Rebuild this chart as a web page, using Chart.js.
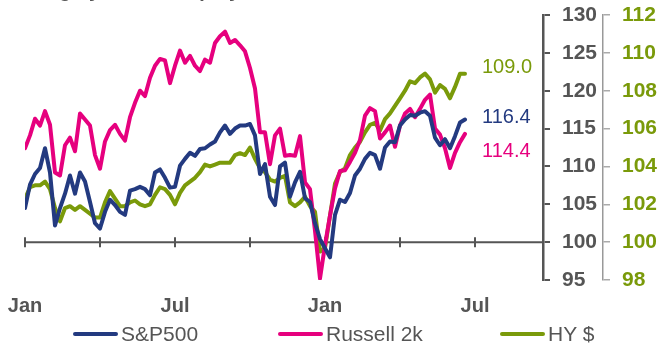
<!DOCTYPE html>
<html>
<head>
<meta charset="utf-8">
<script src="https://cdn.jsdelivr.net/npm/chart.js@4"></script>
<style>
  html, body { margin: 0; padding: 0; background: #fff; overflow: hidden; }
  #wrap { position: relative; width: 661px; height: 344px; }
  #c { display: block; }
  #title { position: absolute; left: 8px; top: -21px; font: bold 20px "Liberation Sans", Arial, sans-serif; color: #555; white-space: nowrap; }
  .leg { position: absolute; top: 323px; height: 22px; display: flex; align-items: center; font: 21px "Liberation Sans", Arial, sans-serif; color: #555; white-space: nowrap; }
  .leg i { display: inline-block; width: 45px; height: 4px; border-radius: 2px; margin-right: 3px; }
</style>
</head>
<body>
<div id="wrap">
  <canvas id="c" width="661" height="344"></canvas>
  <div id="title">US high yield and equity total return index</div>
  <div id="legend"></div>
</div>
<script>
// ---- data ----
const seriesNames = ['S&P500', 'Russell 2k', 'HY $'];
const seriesColors = ['#233a80', '#e6007e', '#7a9a0a'];
const endLabels = ['116.4', '114.4', '109.0'];
const monthTicks = [0, 3, 6, 9, 12, 15, 18];
const tickLabels = ['Jan', '', 'Jul', '', 'Jan', '', 'Jul'];
const stepMonths = 0.2; // spacing of the sampled observations, in months

const sp500 = [104.5,107.6,109.0,109.8,112.4,109.2,102.2,104.5,106.4,108.8,106.4,109.2,108.0,105.3,102.5,101.8,104.0,105.6,104.9,104.0,103.6,
  106.8,107.0,107.3,107.0,106.2,109.2,109.6,108.5,107.2,107.3,110.1,111.0,111.8,111.4,112.3,112.4,112.9,113.3,114.5,115.4,114.3,115.0,115.4,115.4,
  115.6,114.1,109.0,110.3,106.0,104.9,110.0,110.5,106.0,107.9,109.3,105.8,105.3,102.5,100.4,99.2,98.0,103.6,105.6,105.3,106.5,108.8,
  109.7,111.0,111.8,111.5,109.7,112.5,113.3,113.2,115.4,116.2,116.8,116.7,117.1,117.3,116.7,113.8,112.8,113.6,112.4,114.0,115.8,116.2];

const russell = [112.4,114.1,116.3,115.4,117.3,115.5,109.2,108.8,112.8,113.8,112.0,117.0,116.2,115.4,111.5,109.7,113.3,114.8,115.5,114.3,113.4,
  116.5,118.4,120.0,119.3,121.7,123.3,124.2,124.0,121.0,123.3,125.3,123.7,124.6,123.3,122.6,124.1,123.7,126.3,127.2,127.8,126.3,126.7,126.0,125.2,
  123.0,120.3,114.5,114.5,110.3,114.1,115.0,111.4,111.5,111.4,114.0,107.9,107.0,101.5,95.2,99.6,103.5,107.1,109.4,109.5,110.6,111.8,
  113.5,116.7,117.7,117.3,113.7,114.5,115.4,112.6,115.4,117.0,117.6,116.5,117.6,118.8,119.5,115.0,114.2,112.4,109.8,111.8,113.2,114.3];

const hy = [102.3,102.9,103.0,103.0,103.2,102.8,101.8,101.1,101.8,101.9,101.7,101.9,101.7,101.5,101.3,101.3,102.1,102.7,102.3,101.9,101.9,
  102.1,102.2,102.0,101.9,102.0,102.5,102.9,102.8,102.5,102.0,102.6,103.0,103.2,103.4,103.7,104.1,104.0,104.1,104.2,104.2,104.2,104.6,104.7,104.6,
  105.0,104.4,103.9,103.7,103.3,103.2,103.4,103.5,102.1,101.9,102.1,102.4,101.9,101.6,99.5,99.7,101.4,103.1,103.7,103.9,104.6,105.0,
  105.3,105.8,106.2,106.3,105.9,106.5,106.8,107.2,107.6,108.0,108.5,108.4,108.7,108.9,108.6,107.9,108.3,108.1,107.6,108.2,108.9,108.9];

// ---- chart ----
const FONT = '"Liberation Sans", Arial, sans-serif';
const toXY = arr => arr.map((v, i) => ({ x: i * stepMonths, y: v }));

const legendEl = document.getElementById('legend');
const legLeft = [73, 278, 500];
seriesNames.forEach((n, i) => {
  const d = document.createElement('div');
  d.className = 'leg';
  d.style.left = legLeft[i] + 'px';
  d.innerHTML = '<i style="background:' + seriesColors[i] + '"></i><span></span>';
  d.querySelector('span').textContent = n;
  legendEl.appendChild(d);
});

const zeroAxis = {
  id: 'zeroAxis',
  beforeDatasetsDraw(chart) {
    const { ctx, scales: { x, y } } = chart;
    const py = y.getPixelForValue(100);
    ctx.save();
    ctx.strokeStyle = '#555';
    ctx.lineWidth = 2;
    ctx.beginPath();
    ctx.moveTo(x.getPixelForValue(0), py);
    ctx.lineTo(chart.chartArea.right, py);
    ctx.stroke();
    monthTicks.forEach(m => {
      const px = x.getPixelForValue(m);
      ctx.beginPath();
      ctx.moveTo(px, py - 5);
      ctx.lineTo(px, py + 5);
      ctx.stroke();
    });
    ctx.restore();
  },
  afterDatasetsDraw(chart) {
    const { ctx } = chart;
    const offs = [0, 18, -4];
    ctx.save();
    ctx.font = '20px ' + FONT;
    ctx.textBaseline = 'middle';
    ctx.textAlign = 'left';
    chart.data.datasets.forEach((ds, i) => {
      const sc = chart.scales[ds.yAxisID];
      const py = sc.getPixelForValue(parseFloat(endLabels[i])) + offs[i];
      ctx.fillStyle = seriesColors[i];
      ctx.fillText(endLabels[i], 482, py);
    });
    ctx.restore();
  }
};

const fitY = w => s => { s.width = w; s.paddingTop = 0; s.paddingBottom = 0; };

new Chart(document.getElementById('c'), {
  type: 'line',
  data: {
    datasets: [
      { label: seriesNames[0], data: toXY(sp500), borderColor: seriesColors[0], yAxisID: 'y' },
      { label: seriesNames[1], data: toXY(russell), borderColor: seriesColors[1], yAxisID: 'y' },
      { label: seriesNames[2], data: toXY(hy), borderColor: seriesColors[2], yAxisID: 'y2' }
    ].map(d => Object.assign(d, { borderWidth: 4, pointRadius: 0, tension: 0, fill: false, borderJoinStyle: 'round', borderCapStyle: 'round' }))
  },
  options: {
    responsive: false,
    animation: false,
    layout: { padding: { left: 25, top: 15, right: 0, bottom: 0 } },
    plugins: { legend: { display: false }, tooltip: { enabled: false } },
    scales: {
      x: {
        type: 'linear', min: 0, max: 20.72,
        afterBuildTicks: s => { s.ticks = monthTicks.map(v => ({ value: v })); },
        afterFit: s => { s.height = 64; s.paddingLeft = 0; s.paddingRight = 0; },
        grid: { display: false },
        border: { display: false },
        ticks: {
          autoSkip: false, maxRotation: 0, padding: 6,
          color: '#555', font: { family: FONT, size: 20, weight: 'bold' },
          callback: v => tickLabels[monthTicks.indexOf(v)]
        }
      },
      y: {
        position: 'right', min: 95, max: 130,
        afterFit: fitY(60),
        ticks: { stepSize: 5, padding: 12, color: '#555', font: { family: FONT, size: 21, weight: 'bold' } },
        grid: { drawOnChartArea: false, tickLength: 7, color: '#555', lineWidth: 2 },
        border: { color: '#555', width: 2.5 }
      },
      y2: {
        position: 'right', min: 98, max: 112,
        afterFit: fitY(58),
        ticks: { stepSize: 2, padding: 12, color: '#7a9a0a', font: { family: FONT, size: 21, weight: 'bold' } },
        grid: { drawOnChartArea: false, tickLength: 7, color: '#aaa', lineWidth: 1.5 },
        border: { color: '#999', width: 1.5 }
      }
    }
  },
  plugins: [zeroAxis]
});
</script>
</body>
</html>
